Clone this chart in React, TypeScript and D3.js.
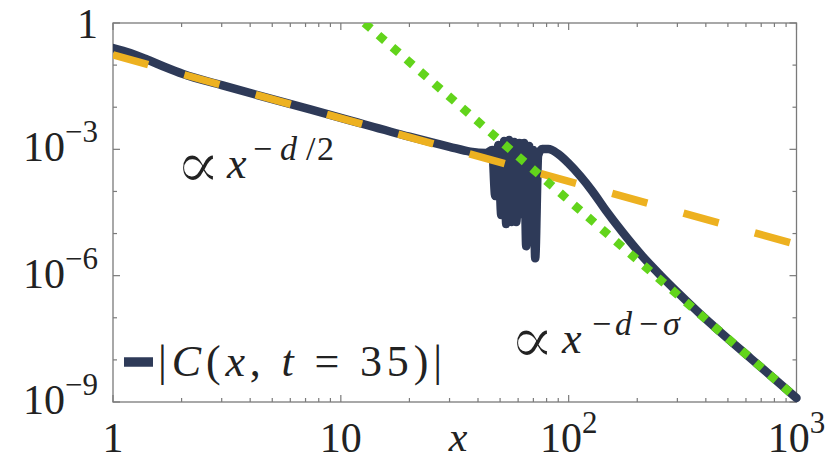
import React from 'react';
import { scaleLog, line, curveMonotoneX, curveLinear } from 'd3';

// |C(x, t=35)|
const curveX = [1, 1.19, 1.41, 1.69, 2.03, 3, 5, 10, 20, 30, 37, 43.5, 46.2, 47.6, 49.1,
  50.6, 52.1, 53.2, 54.8, 56.0, 57.7, 58.9, 60.7, 61.9, 63.8, 65.1, 67.1, 68.5, 69.9, 71.3,
  73.5, 76.6, 81.4, 90.0, 99.6, 112.4, 126.9, 146.3, 172.0, 210.5, 252.5, 309.2, 378.5,
  463.4, 627.5, 1000];
const curveY = [0.255, 0.194, 0.136, 0.090, 0.0615, 0.0334, 0.0156, 5.6e-3, 2.0e-3, 1.15e-3,
  8.8e-4, 8.2e-4, 9.6e-4, 7.8e-5, 1.26e-3, 2.75e-5, 1.57e-3, 1.68e-5, 1.66e-3, 1.88e-5,
  1.49e-3, 1.88e-5, 1.41e-3, 2.9e-5, 1.41e-3, 5.0e-6, 1.2e-3, 1.09e-5, 9.6e-4, 2.6e-6,
  7.3e-4, 1.02e-3, 1.02e-3, 7.73e-4, 4.73e-4, 2.32e-4, 1.02e-4, 3.42e-5, 1.09e-5, 2.92e-6,
  1.03e-6, 3.46e-7, 1.22e-7, 4.57e-8, 1.10e-8, 1.24e-9];

// power law guides
const halfX = [1, 1000];
const halfY = [0.174, 5.5e-6];
const tailX = [12.7, 1000];
const tailY = [1, 1.24e-9];

const xTickValues = [1, 10, 100, 1000];
const xTickLabels = ['1', '10', '10^2', '10^3'];
const yTickValues = [1, 1e-3, 1e-6, 1e-9];
const yTickLabels = ['1', '10^−3', '10^−6', '10^−9'];
const xMinor = [2, 3, 4, 5, 6, 7, 8, 9, 20, 30, 40, 50, 60, 70, 80, 90, 200, 300, 400, 500, 600, 700, 800, 900];
const yMinor = [1e-1, 1e-2, 1e-4, 1e-5, 1e-7, 1e-8];

const colors = { curve: '#2E3A58', half: '#EDB120', tail: '#62D41B', frame: '#7a7a7a', text: '#222' };
const font = "'Liberation Serif', serif";

const W = 830, H = 462;
const m = { l: 113, r: 796.5, t: 23, b: 402 };

const TickLabel = ({ label, x, y, anchor }: { label: string; x: number; y: number; anchor: string }) => {
  const [base, sup] = label.split('^');
  return (
    <text x={x} y={y} textAnchor={anchor} fontSize={42} fontFamily={font} fill={colors.text}>
      {base}
      {sup && <tspan dy={-19} fontSize={31}>{sup}</tspan>}
    </text>
  );
};

// the proportional sign only exists in a heavy face; a white outline thins it
const Propto = ({ x, y }: { x: number; y: number }) => (
  <text x={x} y={y} fontSize={68} fontFamily="'DejaVu Serif', serif" fill={colors.text}
    stroke="#fff" strokeWidth={1.5}>∝</text>
);

export default function App() {
  const x = scaleLog().domain([1, 1000]).range([m.l, m.r]);
  const y = scaleLog().domain([1e-9, 1]).range([m.b, m.t]);

  const pts = (xs: number[], ys: number[]) => xs.map((v, i) => [v, ys[i]] as [number, number]);
  const smooth = line<[number, number]>().x(d => x(d[0])).y(d => y(d[1])).curve(curveMonotoneX);
  const straight = line<[number, number]>().x(d => x(d[0])).y(d => y(d[1])).curve(curveLinear);

  return (
    <svg width={W} height={H} style={{ position: 'absolute', left: 0, top: 0, background: '#fff' }}>
      <defs>
        <clipPath id="plot">
          <rect x={m.l} y={m.t} width={W - m.l} height={H - m.t - 50} />
        </clipPath>
      </defs>

      {/* frame */}
      <rect x={m.l} y={m.t} width={m.r - m.l} height={m.b - m.t} fill="none" stroke={colors.frame} strokeWidth={1.3} />
      {xTickValues.map(v => (
        <g key={'xt' + v} stroke={colors.frame} strokeWidth={1.2}>
          <line x1={x(v)} x2={x(v)} y1={m.b} y2={m.b - 7} />
          <line x1={x(v)} x2={x(v)} y1={m.t} y2={m.t + 7} />
        </g>
      ))}
      {xMinor.map(v => (
        <g key={'xm' + v} stroke={colors.frame} strokeWidth={1.2}>
          <line x1={x(v)} x2={x(v)} y1={m.b} y2={m.b - 4} />
          <line x1={x(v)} x2={x(v)} y1={m.t} y2={m.t + 4} />
        </g>
      ))}
      {yTickValues.map(v => (
        <g key={'yt' + v} stroke={colors.frame} strokeWidth={1.2}>
          <line x1={m.l} x2={m.l + 7} y1={y(v)} y2={y(v)} />
          <line x1={m.r} x2={m.r - 7} y1={y(v)} y2={y(v)} />
        </g>
      ))}
      {yMinor.map(v => (
        <g key={'ym' + v} stroke={colors.frame} strokeWidth={1.2}>
          <line x1={m.l} x2={m.l + 4} y1={y(v)} y2={y(v)} />
          <line x1={m.r} x2={m.r - 4} y1={y(v)} y2={y(v)} />
        </g>
      ))}

      {/* series */}
      <g clipPath="url(#plot)">
        <path d={smooth(pts(curveX, curveY)) || ''} fill="none" stroke={colors.curve} strokeWidth={8.5}
          strokeLinejoin="round" strokeLinecap="round" />
        <path d={straight(pts(halfX, halfY)) || ''} fill="none" stroke={colors.half} strokeWidth={7.5}
          strokeDasharray="36.5 37.5" />
        <path d={straight(pts(tailX, tailY)) || ''} fill="none" stroke={colors.tail} strokeWidth={8.5}
          strokeDasharray="8.5 10" />
      </g>

      {/* tick labels */}
      {yTickValues.map((v, i) => (
        <TickLabel key={'yl' + v} label={yTickLabels[i]} x={98} y={Math.max(y(v) + 12, 38)} anchor="end" />
      ))}
      {xTickValues.map((v, i) => (
        <TickLabel key={'xl' + v} label={xTickLabels[i]} x={x(v)} y={452} anchor="middle" />
      ))}
      <text x={458} y={451} textAnchor="middle" fontSize={42} fontStyle="italic" fontFamily={font} fill={colors.text}>x</text>

      {/* annotations */}
      <g fontFamily={font} fill={colors.text}>
        <Propto x={175} y={188} />
        <text x={227} y={178} fontSize={44} fontStyle="italic">x</text>
        <text y={160} fontSize={34}>
          <tspan x={253}>−</tspan>
          <tspan x={280} fontStyle="italic">d</tspan>
          <tspan x={306}>/</tspan>
          <tspan x={317}>2</tspan>
        </text>

        <Propto x={509} y={363} />
        <text x={562} y={353} fontSize={44} fontStyle="italic">x</text>
        <text y={335} fontSize={34}>
          <tspan x={592}>−</tspan>
          <tspan x={615} fontStyle="italic">d</tspan>
          <tspan x={639}>−</tspan>
          <tspan x={663} fontStyle="italic">σ</tspan>
        </text>
      </g>

      {/* legend */}
      <line x1={124} x2={153} y1={362} y2={362} stroke={colors.curve} strokeWidth={9.5} />
      <text x={158} y={376} fontSize={44} fontFamily={font} fill={colors.text} textLength={284} lengthAdjust="spacing">
        |<tspan fontStyle="italic">C</tspan>(<tspan fontStyle="italic">x</tspan>, <tspan fontStyle="italic">t</tspan> = 35)|
      </text>
    </svg>
  );
}
